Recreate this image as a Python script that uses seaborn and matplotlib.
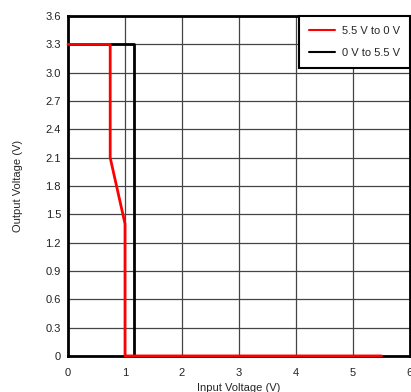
import matplotlib
matplotlib.use('Agg')
import matplotlib.pyplot as plt
import seaborn as sns
import pandas as pd

# traces
red_x = [0, 0.74, 0.74, 1.0, 1.0, 5.5]
red_y = [3.3, 3.3, 2.1, 1.4, 0.0, 0.0]
black_x = [0, 1.15, 1.15, 5.5]
black_y = [3.3, 3.3, 0.0, 0.0]
series_names = ['5.5 V to 0 V', '0 V to 5.5 V']
series_colors = ['#ff0000', '#000000']

x_ticks = [0, 1, 2, 3, 4, 5, 6]
y_ticks = [0, 0.3, 0.6, 0.9, 1.2, 1.5, 1.8, 2.1, 2.4, 2.7, 3.0, 3.3, 3.6]
y_labels = ['0', '0.3', '0.6', '0.9', '1.2', '1.5', '1.8', '2.1', '2.4', '2.7', '3.0', '3.3', '3.6']

red_df = pd.DataFrame({'x': red_x, 'y': red_y})
black_df = pd.DataFrame({'x': black_x, 'y': black_y})

sns.set_style('white')
plt.rcParams['font.family'] = ['Liberation Sans', 'DejaVu Sans']

fig = plt.figure(figsize=(4.11, 3.92), dpi=100)
ax = fig.add_axes([0.1655, 0.092, 0.832, 0.867])

# black first so the red trace sits on top
sns.lineplot(data=black_df, x='x', y='y', sort=False, estimator=None,
             color=series_colors[1], linewidth=2, label=series_names[1], ax=ax,
             zorder=4, clip_on=False)
sns.lineplot(data=red_df, x='x', y='y', sort=False, estimator=None,
             color=series_colors[0], linewidth=2, label=series_names[0], ax=ax,
             zorder=5, clip_on=False)

ax.set_xlim(0, 6)
ax.set_ylim(0, 3.6)
ax.set_xticks(x_ticks)
ax.set_yticks(y_ticks)
ax.set_yticklabels(y_labels)
ax.tick_params(axis='both', labelsize=8, length=0, colors='#222222')
ax.tick_params(axis='x', pad=9)
ax.tick_params(axis='y', pad=5)
ax.grid(True, color='#444444', linewidth=0.9)
for s in ax.spines.values():
    s.set_color('black')
    s.set_linewidth(2)
ax.set_xlabel('Input Voltage (V)', fontsize=8, labelpad=3)
ax.set_ylabel('Output Voltage (V)', fontsize=8, labelpad=16)

handles, labels = ax.get_legend_handles_labels()
leg = ax.legend(handles[::-1], labels[::-1], loc='upper right', fontsize=8,
                frameon=True, fancybox=False, borderaxespad=0,
                handlelength=2.4, handletextpad=0.6, borderpad=0.9,
                labelspacing=1.1)
leg.get_frame().set_edgecolor('black')
leg.get_frame().set_linewidth(1.5)
leg.get_frame().set_alpha(1)
leg.set_zorder(10)
for line in leg.get_lines():
    line.set_linewidth(1.5)

plt.savefig('out.png', dpi=100)
